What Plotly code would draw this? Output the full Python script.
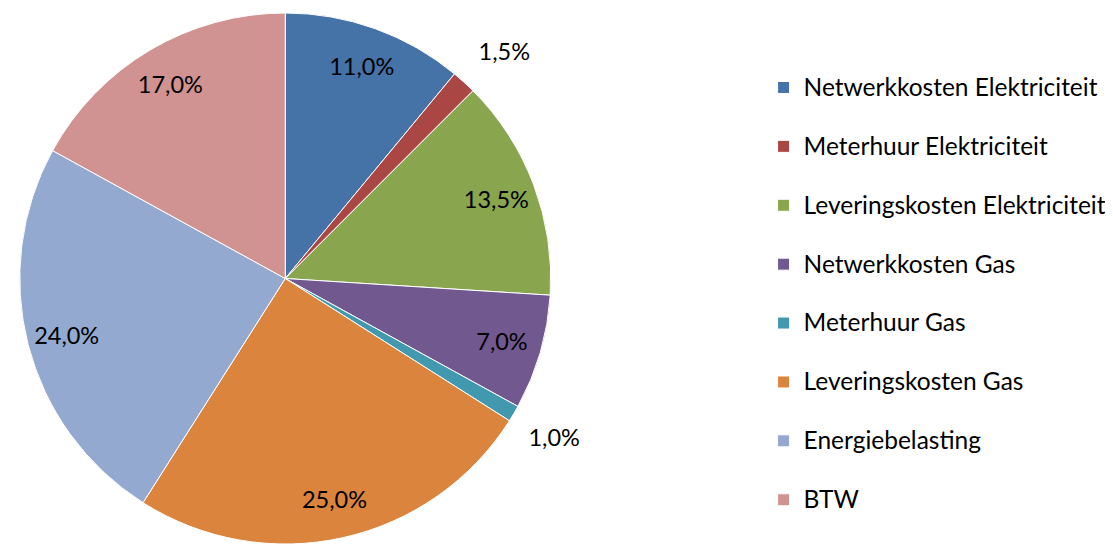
import plotly.graph_objects as go

categories = [
    "Netwerkkosten Elektriciteit",
    "Meterhuur Elektriciteit",
    "Leveringskosten Elektriciteit",
    "Netwerkkosten Gas",
    "Meterhuur Gas",
    "Leveringskosten Gas",
    "Energiebelasting",
    "BTW",
]
values = [11.0, 1.5, 13.5, 7.0, 1.0, 25.0, 24.0, 17.0]
colors = ["#4572A7", "#AA4643", "#89A54E", "#71588F", "#4198AF", "#DB843D", "#93A9CF", "#D19392"]

FONT = "Lato"
W, H = 1105, 541  # page body adds an 8px margin

texts = []
positions = []
for i, v in enumerate(values):
    t = f"{v:.1f}%".replace(".", ",")
    if v < 2:
        positions.append("outside")
        # a blank line nudges the outside label away from the rim
        t = t + "<br>\u00a0" if i < 3 else "\u00a0<br>" + t
    else:
        positions.append("inside")
    texts.append(t)

# legend entries: bigger text in a span, extra blank line for vertical spacing
legend_labels = []
for i, c in enumerate(categories):
    lab = f"<span style='font-size:24.5px'>{c}</span>"
    if i < len(categories) - 1:
        lab += "<br> "
    legend_labels.append(lab)

domain = dict(x=[3 / W, 544 / W], y=[0, 1])

# filled slices
slices = go.Pie(
    labels=legend_labels,
    values=values,
    textinfo="none",
    sort=False,
    direction="clockwise",
    rotation=0,
    marker=dict(colors=colors, line=dict(color="white", width=1)),
    domain=domain,
    hoverinfo="skip",
)

# transparent ring carrying the data labels near the rim
labels_ring = go.Pie(
    labels=legend_labels,
    values=values,
    text=texts,
    textinfo="text",
    textposition=positions,
    insidetextorientation="horizontal",
    sort=False,
    direction="clockwise",
    rotation=0,
    hole=0.70,
    marker=dict(colors=["rgba(0,0,0,0)"] * len(values), line=dict(width=0)),
    textfont=dict(family=FONT, size=23.5, color="black"),
    domain=domain,
    showlegend=False,
    hovertext=categories,
    hoverinfo="text+percent",
)

fig = go.Figure([slices, labels_ring])

fig.update_layout(
    width=W,
    height=H,
    margin=dict(l=0, r=0, t=0, b=0),
    paper_bgcolor="white",
    plot_bgcolor="white",
    showlegend=True,
    legend=dict(
        x=754 / W, xanchor="left",
        y=1 - 55 / H, yanchor="top",
        valign="top",
        font=dict(family=FONT, size=21.5, color="black"),
        bgcolor="rgba(0,0,0,0)",
        itemclick=False,
    ),
)

fig.write_html("out.html")
